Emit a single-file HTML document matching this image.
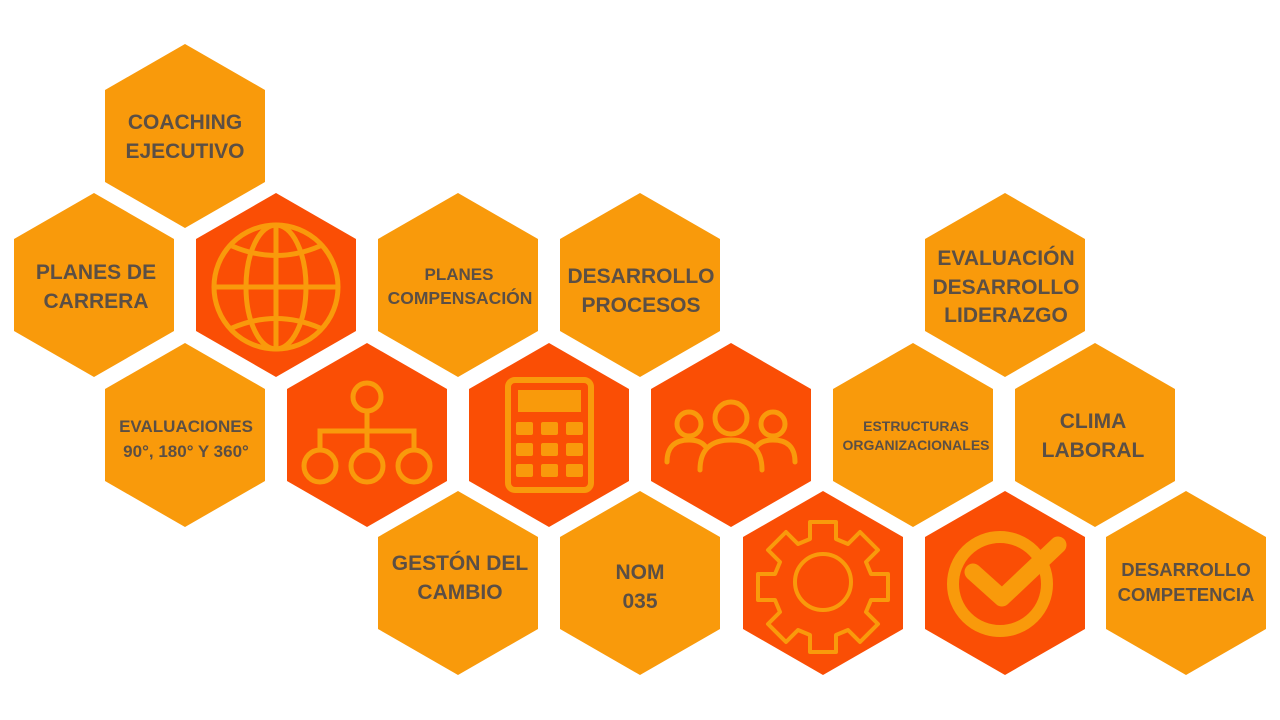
<!DOCTYPE html>
<html><head><meta charset="utf-8"><style>
html,body{margin:0;padding:0;background:#fff;width:1280px;height:720px;overflow:hidden}
svg text{font-family:"Liberation Sans",sans-serif;font-weight:bold;fill:#5b4f45;text-anchor:middle}
</style></head><body>
<svg width="1280" height="720" viewBox="0 0 1280 720">
<defs>
<polygon id="h" points="0,-92 80,-46 80,46 0,92 -80,46 -80,-46" stroke-linejoin="round"/>
</defs>
<g fill="#F99A0B">
<use href="#h" x="185" y="136"/>
<use href="#h" x="94" y="285"/>
<use href="#h" x="458" y="285"/>
<use href="#h" x="640" y="285"/>
<use href="#h" x="1005" y="285"/>
<use href="#h" x="185" y="435"/>
<use href="#h" x="913" y="435"/>
<use href="#h" x="1095" y="435"/>
<use href="#h" x="458" y="583"/>
<use href="#h" x="640" y="583"/>
<use href="#h" x="1186" y="583"/>
</g>
<g fill="#FA4E05">
<use href="#h" x="276" y="285"/>
<use href="#h" x="367" y="435"/>
<use href="#h" x="549" y="435"/>
<use href="#h" x="731" y="435"/>
<use href="#h" x="823" y="583"/>
<use href="#h" x="1005" y="583"/>
</g>
<!-- globe -->
<g fill="none" stroke="#F99A0B" stroke-width="5">
<circle cx="276" cy="287" r="62"/>
<ellipse cx="276" cy="287" rx="30" ry="62"/>
<line x1="276" y1="225" x2="276" y2="349"/>
<line x1="214" y1="287" x2="338" y2="287"/>
<path d="M232 246 Q276 265 320 246"/>
<path d="M232 328 Q276 309 320 328"/>
</g>
<!-- org chart -->
<g fill="none" stroke="#F99A0B" stroke-width="5">
<circle cx="367" cy="397" r="14"/>
<line x1="367" y1="411" x2="367" y2="431"/>
<polyline points="320,450 320,431 414,431 414,450"/>
<line x1="367" y1="431" x2="367" y2="450"/>
<circle cx="320" cy="466" r="16"/>
<circle cx="367" cy="466" r="16"/>
<circle cx="414" cy="466" r="16"/>
</g>
<!-- calculator -->
<g fill="none" stroke="#F99A0B" stroke-width="6">
<rect x="508" y="380" width="83" height="110" rx="7"/>
<rect x="518" y="390" width="63" height="22" fill="#F99A0B" stroke="none"/>
</g>
<g fill="#F99A0B">
<rect x="516" y="422" width="17" height="13" rx="2"/><rect x="541" y="422" width="17" height="13" rx="2"/><rect x="566" y="422" width="17" height="13" rx="2"/>
<rect x="516" y="443" width="17" height="13" rx="2"/><rect x="541" y="443" width="17" height="13" rx="2"/><rect x="566" y="443" width="17" height="13" rx="2"/>
<rect x="516" y="464" width="17" height="13" rx="2"/><rect x="541" y="464" width="17" height="13" rx="2"/><rect x="566" y="464" width="17" height="13" rx="2"/>
</g>
<!-- people -->
<g fill="none" stroke="#F99A0B" stroke-width="5" stroke-linecap="round">
<circle cx="731" cy="418" r="16"/>
<path d="M700 470 Q700 440 731 440 Q762 440 762 470"/>
<circle cx="689" cy="424" r="12"/>
<path d="M667 462 Q667 440 689 440 Q700 440 705 446"/>
<circle cx="773" cy="424" r="12"/>
<path d="M795 462 Q795 440 773 440 Q762 440 757 446"/>
</g>
<!-- gear -->
<g fill="none" stroke="#F99A0B" stroke-width="4" stroke-linejoin="round">
<path d="M810 522 h26 v17 l12 5 l12 -12 l18 18 l-12 12 l5 12 h17 v26 h-17 l-5 12 l12 12 l-18 18 l-12 -12 l-12 5 v17 h-26 v-17 l-12 -5 l-12 12 l-18 -18 l12 -12 l-5 -12 h-17 v-26 h17 l5 -12 l-12 -12 l18 -18 l12 12 l12 -5 z"/>
<circle cx="823" cy="582" r="28"/>
</g>
<!-- check -->
<g fill="none" stroke="#F99A0B">
<circle cx="1000" cy="584" r="47" stroke-width="12"/>
<polyline points="973,572 1002,598 1058,545" stroke-width="17" stroke-linejoin="round" stroke-linecap="round"/>
</g>
<!-- labels -->
<text x="185" y="129" font-size="21">COACHING</text>
<text x="185" y="158" font-size="21">EJECUTIVO</text>
<text x="96" y="279" font-size="21">PLANES DE</text>
<text x="96" y="308" font-size="21">CARRERA</text>
<text x="459" y="280" font-size="17">PLANES</text>
<text x="460" y="304" font-size="17.5">COMPENSACIÓN</text>
<text x="641" y="283" font-size="21">DESARROLLO</text>
<text x="641" y="312" font-size="21">PROCESOS</text>
<text x="1006" y="265" font-size="21">EVALUACIÓN</text>
<text x="1006" y="294" font-size="21">DESARROLLO</text>
<text x="1006" y="322" font-size="21">LIDERAZGO</text>
<text x="186" y="432" font-size="17">EVALUACIONES</text>
<text x="186" y="457" font-size="17">90°, 180° Y 360°</text>
<text x="916" y="431" font-size="14">ESTRUCTURAS</text>
<text x="916" y="450" font-size="14">ORGANIZACIONALES</text>
<text x="1093" y="428" font-size="21">CLIMA</text>
<text x="1093" y="457" font-size="21">LABORAL</text>
<text x="460" y="570" font-size="21">GESTÓN DEL</text>
<text x="460" y="599" font-size="21">CAMBIO</text>
<text x="640" y="579" font-size="21">NOM</text>
<text x="640" y="608" font-size="21">035</text>
<text x="1186" y="576" font-size="18.5">DESARROLLO</text>
<text x="1186" y="601" font-size="18.5">COMPETENCIA</text>
</svg>
</body></html>
